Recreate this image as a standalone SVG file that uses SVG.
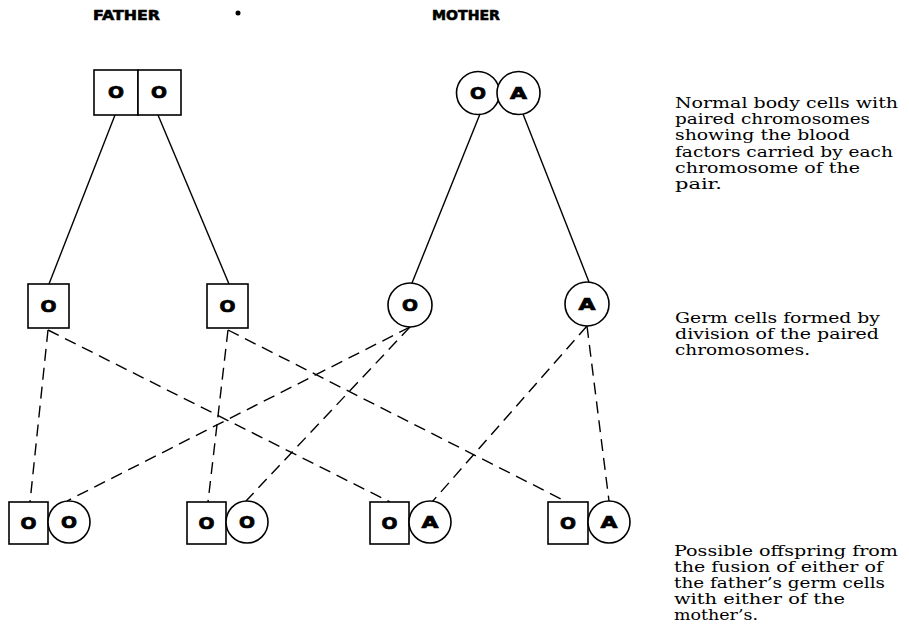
<svg xmlns="http://www.w3.org/2000/svg" width="909" height="630" viewBox="0 0 909 630">
<style>
.box{fill:#fff;stroke:#000;stroke-width:1.6}
.cir{fill:#fff;stroke:#000;stroke-width:1.6}
.sol{stroke:#000;stroke-width:1.4;fill:none}
.dash{stroke:#000;stroke-width:1.4;fill:none;stroke-dasharray:12 7}
.f{font-family:"DejaVu Sans","Liberation Sans",sans-serif;font-weight:bold;font-size:16px;text-anchor:middle;stroke:#000;stroke-width:0.7}
.hd{font-family:"DejaVu Sans","Liberation Sans",sans-serif;font-weight:bold;font-size:13.5px;stroke:#000;stroke-width:0.6}
.note{font-family:"DejaVu Serif","Liberation Serif",serif;font-size:14.5px}
</style>
<rect width="909" height="630" fill="#fff"/>
<g id="labels">
<text class="hd" x="93" y="20" textLength="67" lengthAdjust="spacingAndGlyphs">FATHER</text>
<circle cx="238" cy="13" r="2.5" fill="#000"/>
<text class="hd" x="432" y="20" textLength="68" lengthAdjust="spacingAndGlyphs">MOTHER</text>
</g>
<g id="connectors">
<line class="sol" x1="115" y1="115" x2="49" y2="284"/>
<line class="sol" x1="158" y1="115" x2="229" y2="284"/>
<line class="sol" x1="480" y1="114" x2="412" y2="283"/>
<line class="sol" x1="523" y1="114" x2="589" y2="282"/>
<line class="dash" x1="48" y1="330" x2="30" y2="502"/>
<line class="dash" x1="48" y1="330" x2="390" y2="502"/>
<line class="dash" x1="228" y1="330" x2="208" y2="502"/>
<line class="dash" x1="228" y1="330" x2="567" y2="502"/>
<line class="dash" x1="410" y1="327" x2="67" y2="501"/>
<line class="dash" x1="410" y1="327" x2="246" y2="501"/>
<line class="dash" x1="587" y1="326" x2="432" y2="502"/>
<line class="dash" x1="587" y1="326" x2="609" y2="501"/>
</g>
<g id="father">
<rect class="box" x="94" y="70" width="44" height="45"/>
<rect class="box" x="138" y="70" width="43" height="45"/>
<text class="f" x="116" y="98" textLength="16" lengthAdjust="spacingAndGlyphs">O</text>
<text class="f" x="159" y="98" textLength="16" lengthAdjust="spacingAndGlyphs">O</text>
</g>
<g id="mother">
<circle class="cir" cx="478" cy="93" r="21.5"/>
<circle class="cir" cx="518.5" cy="93" r="21.5"/>
<text class="f" x="478" y="99" textLength="16" lengthAdjust="spacingAndGlyphs">O</text>
<text class="f" x="518.5" y="99" textLength="17" lengthAdjust="spacingAndGlyphs">A</text>
</g>
<g id="germ-father-1">
<rect class="box" x="28" y="284" width="41" height="44"/>
<text class="f" x="48.5" y="312" textLength="16" lengthAdjust="spacingAndGlyphs">O</text>
</g>
<g id="germ-father-2">
<rect class="box" x="207" y="284" width="41" height="44"/>
<text class="f" x="227.5" y="312" textLength="16" lengthAdjust="spacingAndGlyphs">O</text>
</g>
<g id="germ-mother-O">
<circle class="cir" cx="410" cy="305" r="22"/>
<text class="f" x="410" y="311" textLength="16" lengthAdjust="spacingAndGlyphs">O</text>
</g>
<g id="germ-mother-A">
<circle class="cir" cx="587" cy="304" r="22"/>
<text class="f" x="587" y="310" textLength="17" lengthAdjust="spacingAndGlyphs">A</text>
</g>
<g id="offspring-1">
<rect class="box" x="9" y="502" width="39" height="42"/>
<circle class="cir" cx="69" cy="522" r="21"/>
<text class="f" x="28.5" y="529" textLength="16" lengthAdjust="spacingAndGlyphs">O</text>
<text class="f" x="69" y="528" textLength="16" lengthAdjust="spacingAndGlyphs">O</text>
</g>
<g id="offspring-2">
<rect class="box" x="187" y="502" width="39" height="42"/>
<circle class="cir" cx="247" cy="522" r="21"/>
<text class="f" x="206.5" y="529" textLength="16" lengthAdjust="spacingAndGlyphs">O</text>
<text class="f" x="247" y="528" textLength="16" lengthAdjust="spacingAndGlyphs">O</text>
</g>
<g id="offspring-3">
<rect class="box" x="370" y="502" width="39" height="42"/>
<circle class="cir" cx="430" cy="522" r="21"/>
<text class="f" x="389.5" y="529" textLength="16" lengthAdjust="spacingAndGlyphs">O</text>
<text class="f" x="430" y="528" textLength="17" lengthAdjust="spacingAndGlyphs">A</text>
</g>
<g id="offspring-4">
<rect class="box" x="548" y="502" width="40" height="42"/>
<circle class="cir" cx="609" cy="522" r="21"/>
<text class="f" x="568" y="529" textLength="16" lengthAdjust="spacingAndGlyphs">O</text>
<text class="f" x="609" y="528" textLength="17" lengthAdjust="spacingAndGlyphs">A</text>
</g>
<g id="notes">
<text class="note" x="675" y="108" textLength="223" lengthAdjust="spacingAndGlyphs">Normal body cells with</text>
<text class="note" x="675" y="124.2" textLength="195" lengthAdjust="spacingAndGlyphs">paired chromosomes</text>
<text class="note" x="675" y="140.4" textLength="175" lengthAdjust="spacingAndGlyphs">showing the blood</text>
<text class="note" x="675" y="156.6" textLength="218" lengthAdjust="spacingAndGlyphs">factors carried by each</text>
<text class="note" x="675" y="172.8" textLength="185" lengthAdjust="spacingAndGlyphs">chromosome of the</text>
<text class="note" x="675" y="189" textLength="47" lengthAdjust="spacingAndGlyphs">pair.</text>
<text class="note" x="675" y="323" textLength="205" lengthAdjust="spacingAndGlyphs">Germ cells formed by</text>
<text class="note" x="675" y="339" textLength="204" lengthAdjust="spacingAndGlyphs">division of the paired</text>
<text class="note" x="675" y="355" textLength="135" lengthAdjust="spacingAndGlyphs">chromosomes.</text>
<text class="note" x="674" y="556" textLength="224" lengthAdjust="spacingAndGlyphs">Possible offspring from</text>
<text class="note" x="674" y="572" textLength="209" lengthAdjust="spacingAndGlyphs">the fusion of either of</text>
<text class="note" x="674" y="588" textLength="211" lengthAdjust="spacingAndGlyphs">the father’s germ cells</text>
<text class="note" x="674" y="604" textLength="171" lengthAdjust="spacingAndGlyphs">with either of the</text>
<text class="note" x="674" y="620" textLength="84" lengthAdjust="spacingAndGlyphs">mother’s.</text>
</g>
</svg>
